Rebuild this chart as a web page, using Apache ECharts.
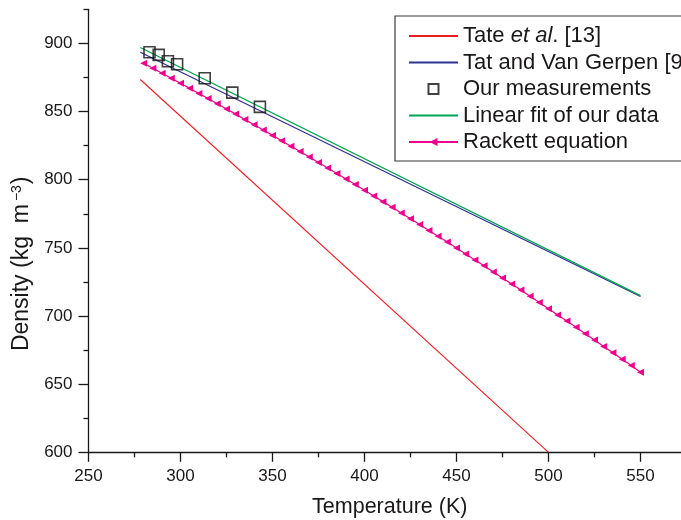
<!DOCTYPE html>
<html>
<head>
<meta charset="utf-8">
<script src="https://cdn.jsdelivr.net/npm/echarts@6/dist/echarts.min.js"></script>
<style>
html,body{margin:0;padding:0;background:#fff;}
#chart{width:681px;height:520px;}
</style>
</head>
<body>
<div id="chart"></div>
<script>
// ---- data ----
const xTicks = [250, 300, 350, 400, 450, 500, 550];
const xMinorTicks = [275, 325, 375, 425, 475, 525];
const yTicks = [600, 650, 700, 750, 800, 850, 900];
const yMinorTicks = [625, 675, 725, 775, 825, 875, 925];

const tateT = [278.15, 500];
const tateD = [873.5, 600];

const tatT = [278.15, 550];
const tatD = [893.5, 714.3];

const measT = [283.15, 288.15, 293.15, 298.15, 313.15, 328.15, 343.15];
const measD = [893.5, 891.6, 886.9, 884.7, 874.4, 863.9, 853.4];

const fitT = [278.15, 550];
const fitD = [897.0, 715.0];

const rackT = [280, 285, 290, 295, 300, 305, 310, 315, 320, 325, 330, 335, 340, 345, 350,
  355, 360, 365, 370, 375, 380, 385, 390, 395, 400, 405, 410, 415, 420, 425, 430, 435,
  440, 445, 450, 455, 460, 465, 470, 475, 480, 485, 490, 495, 500, 505, 510, 515, 520,
  525, 530, 535, 540, 545, 550];
const rackD = [885.4, 881.8, 878.1, 874.4, 870.7, 867.0, 863.2, 859.5, 855.7, 851.9, 848.1,
  844.2, 840.3, 836.4, 832.5, 828.6, 824.6, 820.7, 816.7, 812.6, 808.6, 804.6, 800.5,
  796.4, 792.2, 788.1, 783.9, 779.8, 775.5, 771.3, 767.1, 762.8, 758.5, 754.2, 749.9,
  745.5, 741.1, 736.8, 732.3, 727.9, 723.4, 719.0, 714.5, 709.9, 705.4, 700.8, 696.3,
  691.7, 687.0, 682.4, 677.7, 673.0, 668.3, 663.6, 658.8];

const names = ['Tate et al. [13]', 'Tat and Van Gerpen [9]', 'Our measurements',
  'Linear fit of our data', 'Rackett equation'];

function pairs(xs, ys) { return xs.map((x, i) => [x, ys[i]]); }

const ink = '#1a1718';
const font = 'Liberation Sans, Arial, Helvetica, sans-serif';

const chart = echarts.init(document.getElementById('chart'), null, {renderer: 'canvas'});

const baseX = {
  type: 'value', min: 250, max: 572, interval: 50, gridIndex: 0, position: 'bottom',
  splitLine: {show: false}
};
const baseY = {
  type: 'value', min: 600, max: 925, interval: 25, gridIndex: 0, position: 'left',
  splitLine: {show: false}
};

chart.setOption({
  backgroundColor: '#ffffff',
  animation: false,
  grid: {left: 88.5, right: 0, top: 9.3, bottom: 67.7, containLabel: false,
    outerBoundsMode: 'none'},
  xAxis: [
    Object.assign({}, baseX, {
      axisLine: {show: true, lineStyle: {color: ink, width: 1.3}},
      axisTick: {show: true, inside: false, length: 9.5, customValues: xTicks,
        lineStyle: {color: ink, width: 1.3}},
      axisLabel: {show: true, customValues: xTicks, margin: 16, fontSize: 17,
        color: ink, fontFamily: font},
      name: 'Temperature (K)', nameLocation: 'middle', nameGap: 44,
      nameTextStyle: {fontSize: 21.5, color: ink, fontFamily: font, padding: [0, 0, 0, 10]}
    }),
    Object.assign({}, baseX, {
      axisLine: {show: false},
      axisTick: {show: true, inside: false, length: 5, customValues: xMinorTicks,
        lineStyle: {color: ink, width: 1.3}},
      axisLabel: {show: false}
    })
  ],
  yAxis: [
    Object.assign({}, baseY, {
      axisLine: {show: true, lineStyle: {color: ink, width: 1.3}},
      axisTick: {show: true, inside: false, length: 10, customValues: yTicks,
        lineStyle: {color: ink, width: 1.3}},
      axisLabel: {show: true, customValues: yTicks, margin: 16, fontSize: 17,
        color: ink, fontFamily: font},
      name: 'Density (kg  m{sup|−3})', nameLocation: 'middle', nameGap: 53,
      nameTextStyle: {fontSize: 23, color: ink, fontFamily: font, padding: [0, 66, 0, 0],
        rich: {sup: {fontSize: 14, color: ink, fontFamily: font, verticalAlign: 'top',
          padding: [0, 1, 10, 3]}}}
    }),
    Object.assign({}, baseY, {
      axisLine: {show: false},
      axisTick: {show: true, inside: false, length: 5, customValues: yMinorTicks,
        lineStyle: {color: ink, width: 1.3}},
      axisLabel: {show: false}
    })
  ],
  legend: {
    orient: 'vertical', left: 395, top: 16,
    padding: [9, 30, 8, 13],
    borderColor: '#3a3a3a', borderWidth: 1.2, backgroundColor: '#fff',
    itemWidth: 49, itemHeight: 10, itemGap: 4.5,
    selectedMode: false,
    data: [
      {name: names[0], itemStyle: {opacity: 0}},
      {name: names[1], itemStyle: {opacity: 0}},
      {name: names[2]},
      {name: names[3], itemStyle: {opacity: 0}},
      {name: names[4]}
    ],
    formatter: function (n) { return n === names[0] ? 'Tate {i|et al}. [13]' : n; },
    textStyle: {fontSize: 22, lineHeight: 22, color: ink, fontFamily: font,
      rich: {i: {fontSize: 22, lineHeight: 22, fontStyle: 'italic', color: ink, fontFamily: font}}}
  },
  series: [
    {name: names[0], type: 'line', data: pairs(tateT, tateD), symbol: 'none',
      lineStyle: {color: '#ed1c24', width: 1.1}, itemStyle: {color: '#ed1c24'}, z: 2},
    {name: names[1], type: 'line', data: pairs(tatT, tatD), symbol: 'none',
      lineStyle: {color: '#2e3192', width: 1.3}, itemStyle: {color: '#2e3192'}, z: 2},
    {name: names[3], type: 'line', data: pairs(fitT, fitD), symbol: 'none',
      lineStyle: {color: '#00a651', width: 1.3}, itemStyle: {color: '#00a651'}, z: 3},
    {name: names[4], type: 'line', data: pairs(rackT, rackD),
      symbol: 'triangle', symbolSize: 7, symbolRotate: 90, showSymbol: true,
      lineStyle: {color: '#ec008c', width: 1.2},
      itemStyle: {color: '#ec008c'}, z: 2},
    {name: names[2], type: 'scatter', data: pairs(measT, measD),
      symbol: 'path://M0,0L10,0L10,10L0,10Z', symbolKeepAspect: true, symbolSize: 11,
      itemStyle: {color: 'rgba(255,255,255,0)', borderColor: '#111', borderWidth: 1.6}, z: 5}
  ]
});
</script>
</body>
</html>
